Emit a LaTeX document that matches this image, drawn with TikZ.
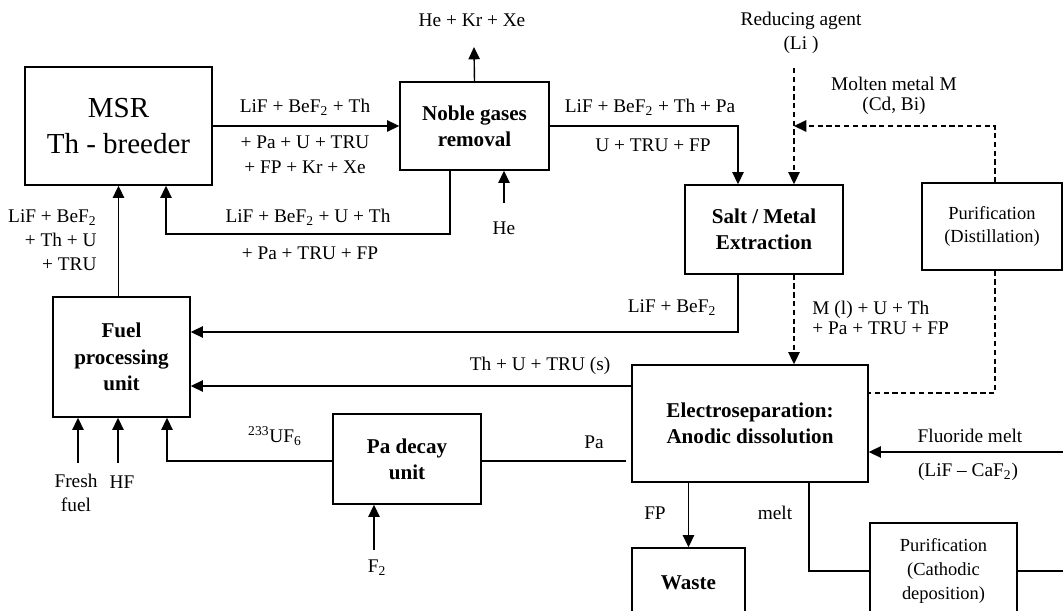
\documentclass[tikz,border=0pt]{standalone}
\usepackage{fontspec}
\setmainfont{Liberation Serif}
\usetikzlibrary{arrows.meta}

\begin{document}
\begin{tikzpicture}[x=0.02cm, y=-0.02cm, line width=0.8pt]

\tikzset{
    blocco/.style={
        draw, align=center,
        font=\fontsize{12}{15}\selectfont\bfseries
    },
    blocco_grande/.style={
        draw, align=center,
        font=\fontsize{16.5}{20}\selectfont
    },
    blocco_chiaro/.style={
        draw, align=center,
        font=\fontsize{10.5}{13.5}\selectfont
    },
    testo/.style={
        inner sep=1pt, align=center,
        font=\fontsize{11}{13.5}\selectfont
    },
    freccia/.style={-{Triangle[length=7pt,width=6.5pt]}},
    tratteggio/.style={dash pattern=on 3pt off 2pt}
}

\useasboundingbox (0,0) rectangle (1063,611);
\clip (0,0) rectangle (1063,611);

% Blocchi
\node[blocco_grande, minimum width=3.74cm, minimum height=2.36cm] (msr) at (118.5,126) {MSR\\Th - breeder};
\node[blocco, minimum width=2.98cm, minimum height=1.76cm] (noble) at (474.5,126) {Noble gases\\removal};
\node[blocco, minimum width=3.16cm, minimum height=1.78cm] (salt) at (764,229.5) {Salt / Metal\\Extraction};
\node[blocco_chiaro, minimum width=2.8cm, minimum height=1.74cm] (distill) at (992,226.5) {Purification\\(Distillation)};
\node[blocco, minimum width=2.74cm, minimum height=2.4cm] (fuel) at (121.5,357) {Fuel\\processing\\unit};
\node[blocco, minimum width=4.72cm, minimum height=2.34cm] (electro) at (750,423.5) {Electroseparation:\\Anodic dissolution};
\node[blocco, minimum width=2.96cm, minimum height=1.8cm] (padecay) at (407,459) {Pa decay\\unit};
\node[blocco, minimum width=2.26cm, minimum height=1.4cm] (waste) at (688.5,583) {Waste};
\node[blocco_chiaro, minimum width=2.94cm, minimum height=1.92cm] (cathodic) at (943.5,571) {Purification\\(Cathodic\\deposition)};

% Punti liberi
\coordinate (gasout) at (474,47);
\coordinate (hein) at (504,203);
\coordinate (ritorno) at (450,234);
\coordinate (ritornoB) at (166,234);
\coordinate (saltin) at (738,126);
\coordinate (li) at (794,68);
\coordinate (molten) at (995,126);
\coordinate (distret) at (995,393);
\coordinate (saltout) at (738,332);
\coordinate (solidi) at (0,386);
\coordinate (pa) at (0,461);
\coordinate (uf6) at (167,461);
\coordinate (f2) at (374,550);
\coordinate (fresh) at (78,463);
\coordinate (hf) at (118,463);
\coordinate (melt) at (809,571);
\coordinate (catout) at (1063,571);
\coordinate (fluor) at (1063,452);

% Flussi del sale
\draw[freccia] (msr) -- (noble);
\node[testo] at (305,107) {LiF + BeF\textsubscript{2} + Th};
\node[testo, font=\fontsize{11}{14}\selectfont] at (305,155) {+ Pa + U + TRU\\+ FP + Kr + Xe};

\draw[freccia] (noble.north) -- (gasout);
\node[testo] at (472,20) {He + Kr + Xe};

\draw[freccia] (hein) -- (hein |- noble.south);
\node[testo] at (504,228) {He};

\draw[freccia] (ritorno |- noble.south) -- (ritorno) -- (ritornoB) -- (ritornoB |- msr.south);
\node[testo] at (308,217) {LiF + BeF\textsubscript{2} + U + Th};
\node[testo] at (310,253) {+ Pa + TRU + FP};

\draw[freccia] (noble.east |- saltin) -- (saltin) -- (saltin |- salt.north);
\node[testo] at (650,107) {LiF + BeF\textsubscript{2} + Th + Pa};
\node[testo] at (653,145) {U + TRU + FP};

% Metallo fuso (tratteggiato)
\draw[freccia, tratteggio] (li) -- (li |- salt.north);
\node[testo] at (801,32.5) {Reducing agent\\(Li )};

\draw[freccia, tratteggio] (molten |- distill.north) -- (molten) -- (li |- molten);
\node[testo, font=\fontsize{11}{11}\selectfont] at (894,96) {Molten metal M\\(Cd, Bi)};

\draw[tratteggio] (distret |- distill.south) -- (distret) -- (distret -| electro.east);

\draw[freccia, tratteggio] (li |- salt.south) -- (li |- electro.north);
\node[testo, anchor=west, align=left, font=\fontsize{11}{11.5}\selectfont] at (810,318) {M (l) + U + Th\\+ Pa + TRU + FP};

% Ritorno all'unita' combustibile
\draw[freccia] (saltout |- salt.south) -- (saltout) -- (saltout -| fuel.east);
\node[testo] at (672,308) {LiF + BeF\textsubscript{2}};

\draw[freccia] (electro.west |- solidi) -- (fuel.east |- solidi);
\node[testo] at (540,366) {Th + U + TRU (s)};

\draw ([xshift=-3pt]electro.west |- pa) -- (padecay.east |- pa);
\node[testo] at (594,442) {Pa};

\draw[freccia] (padecay.west |- uf6) -- (uf6) -- (uf6 |- fuel.south);
\node[testo] at (275,436) {\textsuperscript{233}UF\textsubscript{6}};

\draw[freccia] (f2) -- (f2 |- padecay.south);
\node[testo] at (377,568) {F\textsubscript{2}};

\draw[freccia] (fresh) -- (fresh |- fuel.south);
\node[testo] at (76,493) {Fresh\\fuel};
\draw[freccia] (hf) -- (hf |- fuel.south);
\node[testo] at (122,482) {HF};

\draw[freccia] (msr.south |- fuel.north) -- (msr.south);
\node[testo, anchor=east, align=right, font=\fontsize{11}{13.5}\selectfont] at (99,240) {LiF + BeF\textsubscript{2}\\+ Th + U\\+ TRU};

% Elettroseparazione
\draw[freccia] (waste.north |- electro.south) -- (waste.north);
\node[testo] at (655,513) {FP};

\draw (melt |- electro.south) -- (melt) -- (cathodic.west |- melt);
\node[testo] at (775,513) {melt};
\draw (cathodic.east |- catout) -- (catout);

\draw[freccia] (fluor) -- (fluor -| electro.east);
\node[testo] at (970,436) {Fluoride melt};
\node[testo] at (968,472) {(LiF – CaF\textsubscript{2})};

\end{tikzpicture}
\end{document}
